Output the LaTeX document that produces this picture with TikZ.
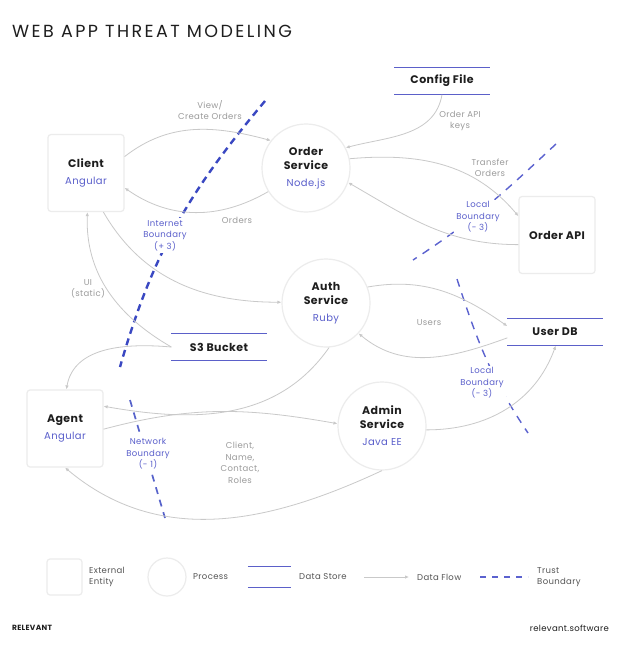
\documentclass[tikz,border=0pt]{standalone}
\usepackage{fontspec}
\setmainfont{Poppins}[LetterSpace=4]
\usetikzlibrary{arrows.meta}

\definecolor{ink}{HTML}{1E1E1E}
\definecolor{techblue}{HTML}{5A5FCB}
\definecolor{storeblue}{HTML}{5B60C9}
\definecolor{inetblue}{HTML}{3A48C2}
\definecolor{localblue}{HTML}{5B62CF}
\definecolor{flowgrey}{HTML}{C9C9C9}
\definecolor{labelgrey}{HTML}{9B9B9B}
\definecolor{edgegrey}{HTML}{ECECEC}
\definecolor{legendgrey}{HTML}{555555}

\newcommand\mainlbl{\fontsize{11}{14}\selectfont\bfseries\color{ink}}
\newcommand\flowfont{\fontsize{8.5}{11.5}\selectfont}
\newcommand\tech[1]{\\[3pt]{\fontsize{10}{12}\selectfont\mdseries\color{techblue}#1}}

\tikzset{
  entity/.style={draw=edgegrey, line width=1.2pt, fill=white, rounded corners=3pt,
    minimum width=76pt, minimum height=77pt, inner sep=0pt, align=center, font=\mainlbl},
  process/.style={circle, draw=edgegrey, line width=1.2pt, fill=white,
    minimum size=88pt, inner sep=0pt, align=center, font=\mainlbl},
  store/.style={minimum width=95pt, minimum height=27pt, inner sep=0pt, font=\mainlbl},
  storeline/.style={storeblue, line width=1.3pt},
  flow/.style={flowgrey, line width=0.8pt, -{Latex[length=4pt,width=3.5pt]}},
  flowlbl/.style={labelgrey, font=\flowfont, align=center},
  bndlbl/.style={techblue, font=\flowfont, align=center, fill=white, inner sep=2pt},
  inet/.style={inetblue, line width=2.4pt, dash pattern=on 7pt off 5pt},
  localbnd/.style={localblue, line width=1.4pt, dash pattern=on 8pt off 7pt},
  netbnd/.style={inetblue!85!white, line width=1.7pt, dash pattern=on 7pt off 6pt},
  legend/.style={legendgrey, font=\flowfont, align=left, anchor=west, inner sep=0pt}
}

\begin{document}
\begin{tikzpicture}[x=1pt,y=-1pt]
  \fill[white] (0,0) rectangle (628,650);
  \useasboundingbox (0,0) rectangle (628,650);

  \node[anchor=west, inner sep=0pt, font=\fontsize{17.5}{20}\selectfont\addfontfeatures{LetterSpace=14}, ink] (title) at (12,31) {WEB APP THREAT MODELING};

  % trust boundaries
  \coordinate (ib1) at (265,101);
  \coordinate (ib2) at (120,367);
  \coordinate (lt1) at (556,144);
  \coordinate (lt2) at (413,260);
  \coordinate (lu1) at (457,279);
  \coordinate (lu2) at (528,433);
  \coordinate (nb1) at (130,400);
  \coordinate (nb2) at (165,518);
  \draw[inet] (ib1) to[out=-130,in=74] (ib2);
  \draw[localbnd] (lt1) to[out=-137,in=33] (lt2);
  \draw[localbnd] (lu1) to[out=-72,in=124] (lu2);
  \draw[netbnd] (nb1) -- (nb2);
  \node[bndlbl] (ib) at (165,235.5) {Internet\\Boundary\\(+ 3)};
  \node[bndlbl] (lbtop) at (478,217) {Local\\Boundary\\(- 3)};
  \node[bndlbl] (lblow) at (482,383) {Local\\Boundary\\(- 3)};
  \node[bndlbl] (nb) at (148,454) {Network\\Boundary\\(- 1)};

  % elements
  \node[entity] (client) at (86,173) {Client\tech{Angular}};
  \node[entity] (api) at (557,235) {Order API};
  \node[entity] (agent) at (65,428.5) {Agent\tech{Angular}};
  \node[process] (order) at (306,168) {Order\\Service\tech{Node.js}};
  \node[process] (auth) at (326,303) {Auth\\Service\tech{Ruby}};
  \node[process] (admin) at (382,426) {Admin\\Service\tech{Java EE}};
  \node[store] (cfg) at (442,81) {Config File};
  \node[store] (udb) at (555,332) {User DB};
  \node[store] (s3) at (219,347) {S3 Bucket};

  % legend
  \node[entity, minimum width=35pt, minimum height=36pt] (lgent) at (64.5,577) {};
  \node[process, minimum size=38pt] (lgproc) at (167,577) {};
  \node[store, minimum width=43pt, minimum height=20pt] (lgstore) at (269.5,577) {};
  \coordinate (lgflow1) at (364,577);
  \coordinate (lgflow2) at (409,577);
  \coordinate (lgtb1) at (480,577);
  \coordinate (lgtb2) at (528,577);
  \draw[flow] (lgflow1) -- (lgflow2);
  \draw[localbnd, dash pattern=on 6pt off 6pt] (lgtb1) -- (lgtb2);
  \node[legend] (lgenttxt) at (89,577) {External\\Entity};
  \node[legend] (lgproctxt) at (193,577) {Process};
  \node[legend] (lgstoretxt) at (299,577) {Data Store};
  \node[legend] (lgflowtxt) at (417,577) {Data Flow};
  \node[legend] (lgtbtxt) at (537,577) {Trust\\Boundary};

  \foreach \s in {cfg,udb,s3,lgstore}
    \draw[storeline] (\s.north west) -- (\s.north east) (\s.south west) -- (\s.south east);

  % data flows
  \draw[flow] (client.23) to[out=38,in=165] (order.142);
  \draw[flow] (order.212) to[out=210,in=-35] (client.-21);
  \draw[flow] (cfg.south) to[out=-100,in=15] (order.27);
  \draw[flow] (order.12) to[out=5,in=130] (api.154);
  \draw[flow] (api.194) to[out=180,in=-30] (order.-19);
  \draw[flow] (client.-66) to[out=-60,in=180] (auth.179);
  \draw[flow] (s3.west) to[out=150,in=-92] (client.-88);
  \draw[flow] (s3.west) to[out=175,in=80] (agent.88);
  \draw[flow] (auth.-86) to[out=-125,in=-10] (agent.30);
  \draw[flow] (agent.-1) to[out=15,in=170] (admin.177);
  \draw[flow] (admin.-90) to[out=-155,in=-40] (agent.-90);
  \draw[flow] (auth.21) to[out=10,in=145] (udb.173);
  \draw[flow] (udb.187) to[out=200,in=-40] (auth.-43);
  \draw[flow] (admin.-5) to[out=0,in=-110] (udb.-87);

  \node[flowlbl] (lview) at (210,110) {View/\\Create Orders};
  \node[flowlbl] (lorders) at (237,220) {Orders};
  \node[flowlbl] (lkeys) at (460,121) {Order API\\keys};
  \node[flowlbl] (ltransfer) at (490,168) {Transfer\\Orders};
  \node[flowlbl] (lui) at (88,289) {UI\\(static)};
  \node[flowlbl] (lusers) at (429,323) {Users};
  \node[flowlbl] (lroles) at (240,463) {Client,\\Name,\\Contact,\\Roles};

  \node[anchor=west, inner sep=0pt, font=\fontsize{7.5}{9}\selectfont\bfseries, ink] (brand) at (12,628) {RELEVANT};
  \node[anchor=east, inner sep=0pt, font=\fontsize{8.5}{10}\selectfont, ink] (site) at (609,628) {relevant.software};
\end{tikzpicture}
\end{document}
